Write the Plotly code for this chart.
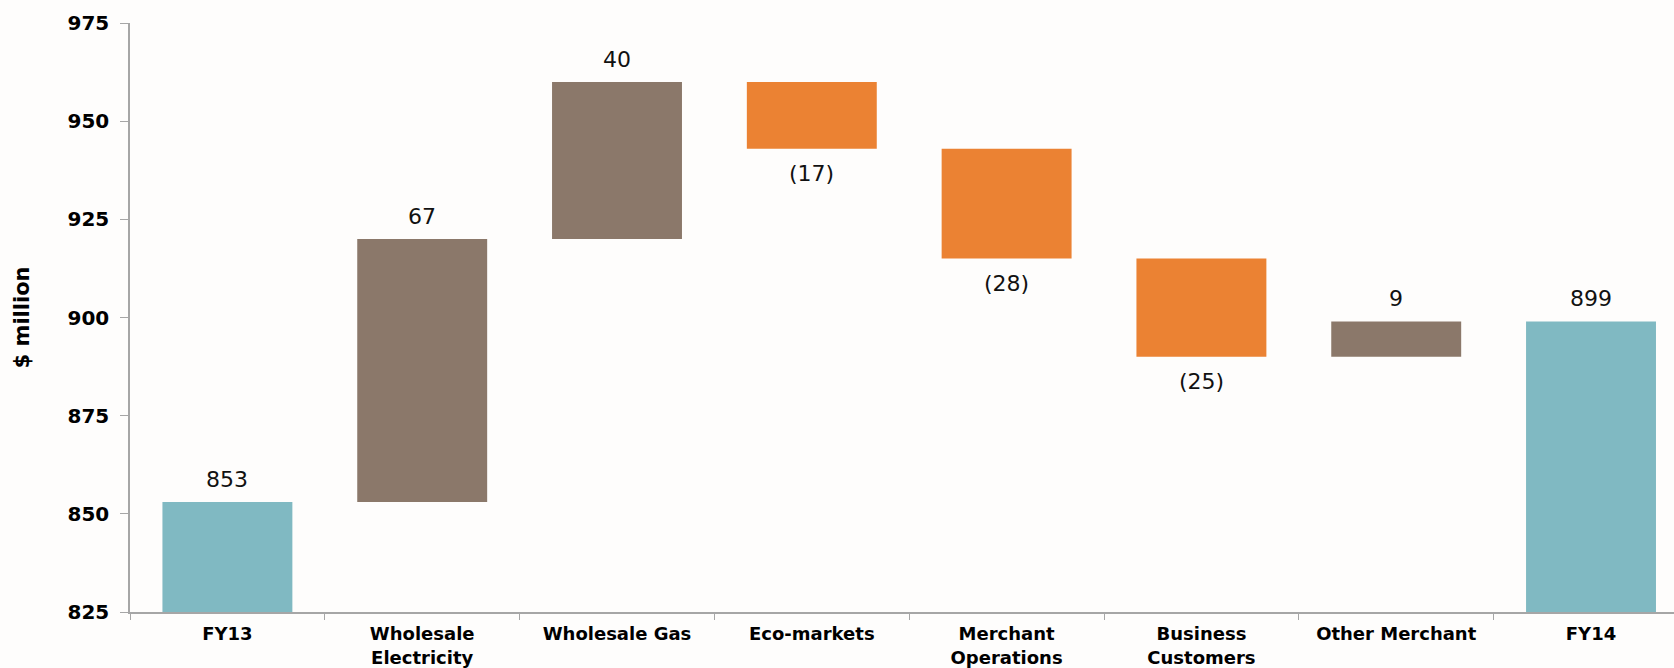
import plotly.graph_objects as go

# Profit bridge FY13 -> FY14 ($ million)
categories = ["FY13", "Wholesale<br>Electricity", "Wholesale Gas", "Eco-markets",
              "Merchant<br>Operations", "Business<br>Customers", "Other Merchant", "FY14"]
measures = ["absolute", "relative", "relative", "relative",
            "relative", "relative", "relative", "total"]
values = [853, 67, 40, -17, -28, -25, 9, 899]

TEAL = "#80B9C2"
BROWN = "#8B786A"
ORANGE = "#EB8233"
BG = "#FEFDFC"
AXIS = "#A6A6A6"

fig = go.Figure()
fig.add_trace(go.Waterfall(
    x=categories,
    y=values,
    measure=measures,
    width=0.667,
    increasing=dict(marker=dict(color=BROWN)),
    decreasing=dict(marker=dict(color=ORANGE)),
    totals=dict(marker=dict(color=TEAL)),
    connector=dict(visible=False),
    hoverinfo="skip",
    showlegend=False,
))

# value labels: above rising/total bars, below falling bars
running = 0
for cat, m, v in zip(categories, measures, values):
    if m == "absolute":
        start, end = 0, v
        running = v
    elif m == "total":
        start, end = 0, running
    else:
        start, end = running, running + v
        running = end
    label = f"({abs(v)})" if v < 0 else f"{v}"
    rising = end >= start
    fig.add_annotation(x=cat, y=end, text=label, showarrow=False,
                       yanchor="bottom" if rising else "top",
                       yshift=8 if rising else -10,
                       font=dict(family="DejaVu Sans", size=22, color="#111111"))

fig.add_annotation(xref="paper", yref="paper", x=-0.07, y=0.5,
                   text="<b>$ million</b>", textangle=-90, showarrow=False,
                   xanchor="center", yanchor="middle",
                   font=dict(family="DejaVu Sans", size=21, color="#000000"))

fig.update_layout(
    width=1674, height=668,
    margin=dict(l=130, r=0, t=23, b=56, autoexpand=False),
    paper_bgcolor=BG, plot_bgcolor=BG,
    font=dict(family="DejaVu Sans", color="#000000"),
)
fig.update_xaxes(
    type="category",
    tickvals=categories,
    ticktext=[f"<b>{c}</b>" for c in categories],
    range=[-0.5, 7.426],
    automargin=False,
    tickson="boundaries",
    showline=True, linecolor=AXIS, linewidth=1.5,
    ticks="outside", ticklen=6, tickcolor=AXIS,
    showgrid=False, zeroline=False,
    tickfont=dict(family="DejaVu Sans", size=18, color="#000000"),
    ticklabelstandoff=5,
)
fig.update_yaxes(
    range=[825, 975], dtick=25, tick0=825,
    automargin=False,
    showline=True, linecolor=AXIS, linewidth=1.5,
    ticks="outside", ticklen=8, tickcolor=AXIS,
    showgrid=False, zeroline=False,
    tickfont=dict(family="DejaVu Sans", size=20, color="#000000"),
    tickprefix="<b>", ticksuffix="</b>",
    ticklabelstandoff=7,
)

fig.write_html("out.html")
